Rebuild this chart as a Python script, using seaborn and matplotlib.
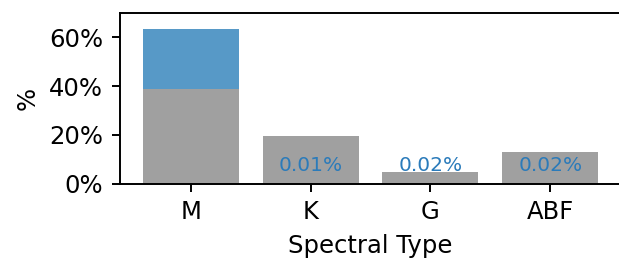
import matplotlib
matplotlib.use("Agg")
import matplotlib.pyplot as plt
import seaborn as sns
import pandas as pd
from matplotlib.ticker import PercentFormatter

categories = ["M", "K", "G", "ABF"]
gray_values = [38.6, 19.3, 4.6, 12.8]
blue_values = [24.8, 0.01, 0.02, 0.02]
labels = ["", "0.01%", "0.02%", "0.02%"]

sns.set_style("ticks")
plt.rcParams['font.family'] = ['DejaVu Sans']
plt.rcParams['text.color'] = 'black'
plt.rcParams['axes.labelcolor'] = 'black'
plt.rcParams['xtick.color'] = 'black'
plt.rcParams['ytick.color'] = 'black'
plt.rcParams['axes.edgecolor'] = 'black'

df = pd.DataFrame({"cat": categories, "gray": gray_values, "blue": blue_values})
df["total"] = df["gray"] + df["blue"]

fig = plt.figure(figsize=(6.19, 2.62), dpi=100)
ax = fig.add_axes([120/619, 1 - 183.5/262, (621-120)/619, (183.5-13)/262])

sns.barplot(data=df, x="cat", y="total", color="#5799c7", saturation=1, width=0.8,
            linewidth=0, ax=ax, errorbar=None)
sns.barplot(data=df, x="cat", y="gray", color="#a0a0a0", saturation=1, width=0.8,
            linewidth=0, ax=ax, errorbar=None)

for i, lab in enumerate(labels):
    if lab:
        ax.text(i, 7.2, lab, ha="center", va="center", color="#2b7bba", fontsize=14.5)

ax.set_xlim(-0.59, 3.59)
ax.set_ylim(0, 70)
ax.set_yticks([0, 20, 40, 60])
ax.yaxis.set_major_formatter(PercentFormatter(decimals=0))
ax.set_xlabel("Spectral Type", fontsize=17.5, labelpad=7)
ax.set_ylabel("%", fontsize=17.5, labelpad=7)
ax.tick_params(labelsize=17.5, length=6.1, width=1.4, pad=6.1, color="black", labelcolor="black")
for s in ax.spines.values():
    s.set_linewidth(1.4)
    s.set_color("black")

fig.savefig("out.png", dpi=100)
